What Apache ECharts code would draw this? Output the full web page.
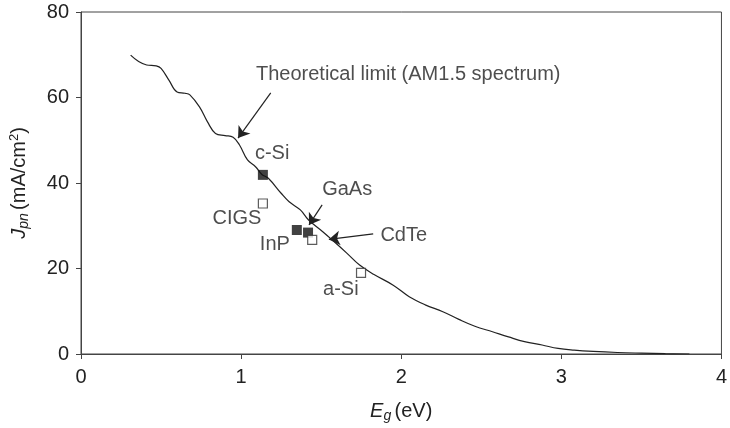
<!DOCTYPE html>
<html>
<head>
<meta charset="utf-8">
<script src="https://cdn.jsdelivr.net/npm/echarts@6/dist/echarts.min.js"></script>
<style>
  html, body { margin: 0; padding: 0; background: #fff; }
  #chart { width: 730px; height: 428px; }
</style>
</head>
<body>
<div id="chart"></div>
<script>
// theoretical limit curve (AM1.5)
var curveX = [0.31, 0.36, 0.41, 0.47, 0.50, 0.55, 0.60, 0.65, 0.68, 0.74, 0.79, 0.84, 0.90, 0.95, 0.99,
  1.04, 1.09, 1.13, 1.17, 1.25, 1.30, 1.37, 1.42, 1.51, 1.58, 1.66, 1.74, 1.83, 1.95, 2.05, 2.15,
  2.26, 2.36, 2.46, 2.57, 2.67, 2.77, 2.88, 2.98, 3.08, 3.20, 3.35, 3.50, 3.65, 3.80];
var curveY = [69.9, 68.4, 67.6, 67.4, 66.8, 64.0, 61.3, 61.0, 60.6, 57.8, 54.3, 51.6, 51.1, 50.7, 48.9,
  45.4, 43.8, 42.0, 41.1, 37.6, 35.6, 33.7, 31.4, 28.6, 26.3, 23.6, 20.8, 18.6, 16.1, 13.4, 11.5,
  9.9, 8.1, 6.5, 5.2, 4.0, 2.9, 2.1, 1.3, 0.9, 0.6, 0.35, 0.2, 0.08, 0];

// measured cells
var filledNames = ["c-Si", "InP", "GaAs"];
var filledEg = [1.136, 1.348, 1.418];
var filledJ = [41.9, 29.0, 28.4];
var openNames = ["CIGS", "CdTe", "a-Si"];
var openEg = [1.136, 1.444, 1.749];
var openJ = [35.2, 26.7, 19.0];

// annotation text anchors (left edge, middle) in data units
var labelText = ["Theoretical limit (AM1.5 spectrum)", "c-Si", "GaAs", "CdTe", "InP", "CIGS", "a-Si"];
var labelEg = [1.093, 1.086, 1.506, 1.870, 1.117, 0.821, 1.512];
var labelJ = [65.3, 47.0, 38.4, 27.8, 25.7, 31.6, 15.0];

// arrows: from -> to
var arrowFrom = [[1.185, 61.1], [1.506, 34.9], [1.825, 28.1]];
var arrowTo = [[0.981, 50.5], [1.424, 30.2], [1.548, 26.8]];

var xTicks = [0, 1, 2, 3, 4];
var yTicks = [0, 20, 40, 60, 80];

var FONT = "Liberation Sans";
var INK = "#222";
var FS = 20;

var chart = echarts.init(document.getElementById("chart"));

function zip(a, b) {
  return a.map(function (v, i) { return [v, b[i]]; });
}

var option = {
  animation: false,
  textStyle: { fontFamily: FONT, color: INK },
  grid: {
    left: 81, right: 1, top: 12, bottom: 74,
    show: true, borderColor: "#444", borderWidth: 1
  },
  xAxis: {
    type: "value", min: xTicks[0], max: xTicks[xTicks.length - 1], interval: 1,
    splitLine: { show: false },
    axisLine: { lineStyle: { color: "#444", width: 1 } },
    axisTick: { inside: false, length: 5, lineStyle: { color: "#444" } },
    axisLabel: { fontSize: FS, color: INK, fontFamily: FONT, margin: 13 },
    name: "{i|E}{sub|g} {n|(eV)}",
    nameLocation: "middle", nameGap: 45,
    nameTextStyle: {
      rich: {
        i: { fontSize: FS, fontStyle: "italic", color: INK, fontFamily: FONT },
        sub: { fontSize: 14, fontStyle: "italic", color: INK, fontFamily: FONT, padding: [10, 0, 0, 0] },
        n: { fontSize: FS, color: INK, fontFamily: FONT }
      }
    }
  },
  yAxis: {
    type: "value", min: yTicks[0], max: yTicks[yTicks.length - 1], interval: 20,
    splitLine: { show: false },
    axisLine: { show: true, lineStyle: { color: "#444", width: 1 } },
    axisTick: { show: true, inside: false, length: 5, lineStyle: { color: "#444" } },
    axisLabel: { fontSize: FS, color: INK, fontFamily: FONT, margin: 12 },
    name: "{i|J}{sub|pn} {n|(mA/cm}{sup|2}{n|)}",
    nameLocation: "middle", nameGap: 50, nameRotate: 90,
    nameTextStyle: {
      rich: {
        i: { fontSize: FS, fontStyle: "italic", color: INK, fontFamily: FONT },
        sub: { fontSize: 14, fontStyle: "italic", color: INK, fontFamily: FONT, padding: [10, 0, 0, 0] },
        sup: { fontSize: 13, color: INK, fontFamily: FONT, padding: [0, 0, 9, 0] },
        n: { fontSize: FS, color: INK, fontFamily: FONT }
      }
    }
  },
  series: [
    {
      name: "limit", type: "line", data: zip(curveX, curveY),
      smooth: 0.4, showSymbol: false,
      lineStyle: { color: INK, width: 1.2 },
      z: 2,
      markLine: {
        silent: true, symbol: ["none", "arrow"], symbolSize: 11,
        label: { show: false },
        lineStyle: { color: INK, width: 1.2, type: "solid" },
        data: arrowFrom.map(function (f, i) {
          return [{ coord: f }, { coord: arrowTo[i] }];
        })
      }
    },
    {
      name: "filled", type: "scatter", data: zip(filledEg, filledJ),
      symbol: "rect", symbolSize: 10,
      itemStyle: { color: "#111" }, z: 4
    },
    {
      name: "open", type: "scatter", data: zip(openEg, openJ),
      symbol: "rect", symbolSize: 9,
      itemStyle: { color: "#fff", borderColor: "#333", borderWidth: 1.2 }, z: 4
    },
    {
      name: "labels", type: "scatter", symbolSize: 0, silent: true,
      data: labelText.map(function (t, i) { return { value: [labelEg[i], labelJ[i]], name: t }; }),
      label: {
        show: true, position: "right", distance: 0,
        formatter: function (p) { return p.name; },
        fontSize: FS, color: INK, fontFamily: FONT
      },
      z: 5
    }
  ]
};

chart.setOption(option);
</script>
</body>
</html>
